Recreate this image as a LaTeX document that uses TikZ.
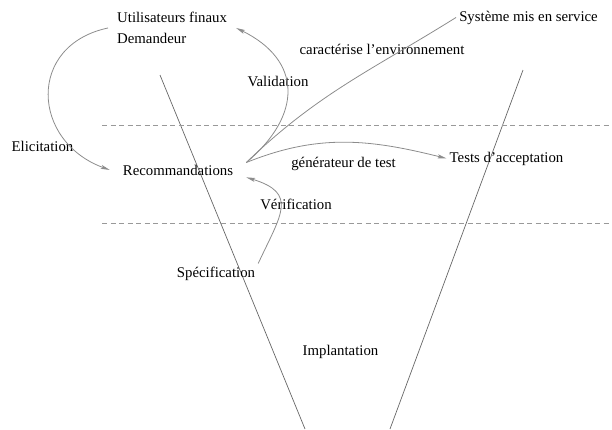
\documentclass[tikz,border=0pt]{standalone}
\usepackage{fontspec}
\setmainfont{Liberation Serif}
\usetikzlibrary{arrows.meta}

\tikzset{
    vline/.style={draw=black!60, line width=0.7pt},
    level/.style={draw=black!40, line width=0.7pt, dash pattern=on 5pt off 3.5pt},
    >={Stealth[length=9pt, width=4pt, inset=2pt]}
}

\begin{document}
\begin{tikzpicture}[x=1pt, y=1pt]
    \useasboundingbox (0,0) rectangle (612,-429);

    % the two arms of the V
    \draw[vline] (160,-75) -- (305,-429);
    \draw[vline] (523,-70) -- (390,-429);

    % levels
    \draw[level] (102,-125) -- (612,-125);
    \draw[level] (102,-223) -- (612,-223);

    \begin{scope}[every node/.style={inner sep=3pt, anchor=base, font=\fontsize{14.8}{21}\selectfont}]
        \node[anchor=north west, align=left, inner xsep=9pt] (users) at (108,-9) {Utilisateurs finaux\\Demandeur};
        \node[inner xsep=13pt, inner ysep=2pt] (reco) at (178,-175) {Recommandations};
        \node (sys) at (528.5,-21) {Système mis en service};
        \node (tests) at (506.5,-162) {Tests d’acceptation};
        \node (spec) at (216,-277) {Spécification};
        \node (impl) at (340.5,-355) {Implantation};

        % labels of the arrows
        \node (elic) at (42.5,-151) {Elicitation};
        \node (valid) at (278,-86) {Validation};
        \node (env) at (382,-54) {caractérise l’environnement};
        \node (gen) at (343.5,-167) {générateur de test};
        \node (verif) at (296,-209) {Vérification};
    \end{scope}

    \begin{scope}[every edge/.style={draw=black!45, line width=0.8pt}]
        \path [->] (users.west) edge [out=192, in=160, looseness=1.5] (reco.west);
        \path [->] (reco.north east) edge [out=40, in=-26, looseness=1.4] (users.east);
        \path (reco.north east) edge [out=44, in=212] (sys.west); % no tip here
        \path [->] (reco.north east) edge [out=22, in=166] (tests.west);
        \path [->] (spec.north east) edge [out=65, in=-17, looseness=1.6] (reco.south east);
    \end{scope}

\end{tikzpicture}
\end{document}
